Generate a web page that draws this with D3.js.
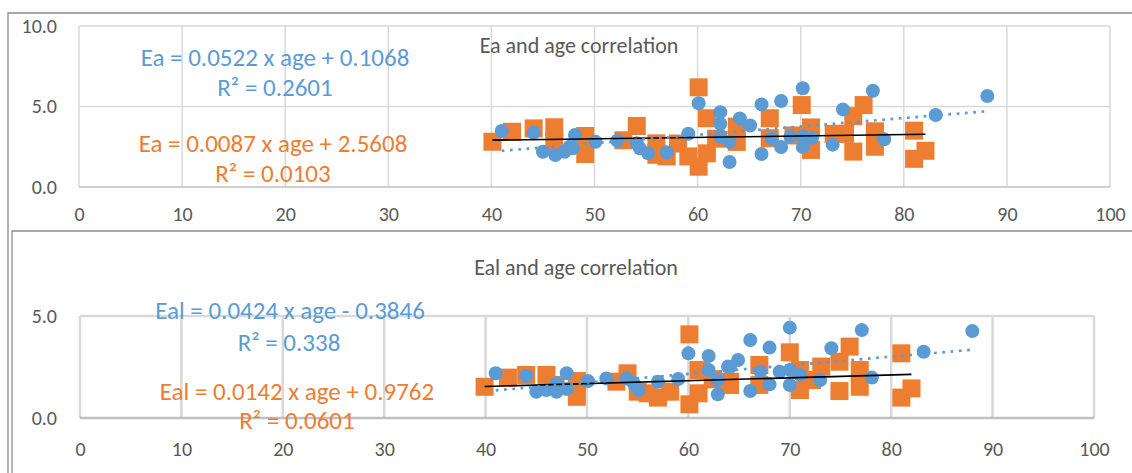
<!DOCTYPE html>
<html>
<head>
<meta charset="utf-8">
<script src="https://cdn.jsdelivr.net/npm/d3@7.9.0/dist/d3.min.js"></script>
<style>
  html, body { margin: 0; padding: 0; background: #fff; }
  svg { display: block; font-family: Carlito, Calibri, "Open Sans", sans-serif; }
</style>
</head>
<body>
<svg id="chart" width="1132" height="473"></svg>
<script>
/* --------------------------------- Data ---------------------------------- */
// [age, value] pairs
const eaBlue = [
  [41.0, 3.48], [44.1, 3.37], [45.0, 2.19], [46.2, 1.99], [47.1, 2.19], [47.6, 2.5],
  [47.9, 2.4], [48.1, 3.23], [50.1, 2.81], [52.2, 2.88], [54.1, 2.71], [54.4, 2.4],
  [55.2, 2.09], [57.0, 2.16], [59.1, 3.31], [60.1, 5.2], [62.2, 4.65], [62.2, 3.93],
  [62.2, 3.13], [63.1, 1.55], [63.1, 2.8], [64.1, 4.26], [65.1, 3.82], [66.2, 5.13],
  [66.2, 2.05], [67.2, 3.02], [68.1, 5.34], [68.1, 2.48], [69.0, 3.13], [70.2, 6.13],
  [70.2, 3.13], [70.2, 2.48], [71.1, 3.06], [73.1, 2.63], [74.1, 4.82], [77.0, 5.98],
  [78.1, 2.97], [83.1, 4.47], [88.1, 5.65]
];
const eaOrange = [
  [40.1, 2.81], [42.0, 3.43], [44.1, 3.64], [46.1, 3.71], [46.1, 2.81], [49.1, 3.17],
  [49.1, 2.05], [52.8, 2.9], [54.1, 3.79], [56.0, 2.71], [56.0, 2.0], [57.0, 1.9],
  [58.1, 2.7], [59.1, 1.9], [60.1, 6.19], [60.1, 1.26], [60.9, 4.27], [60.9, 2.09],
  [61.8, 3.0], [63.8, 3.75], [63.8, 2.8], [67.0, 4.27], [67.0, 3.03], [69.3, 3.2],
  [70.1, 5.09], [71.0, 3.7], [71.0, 2.3], [73.2, 3.3], [74.3, 3.3], [75.1, 2.2],
  [75.1, 4.4], [76.1, 5.09], [77.2, 3.46], [77.2, 2.5], [81.0, 3.5], [81.0, 1.75],
  [82.1, 2.25]
];
const ealBlue = [
  [41.0, 2.19], [44.0, 2.07], [45.0, 1.29], [46.0, 1.37], [47.0, 1.29], [47.0, 1.7],
  [48.0, 2.19], [48.0, 1.42], [50.1, 1.81], [51.9, 1.94], [53.9, 1.94], [54.6, 1.7],
  [55.1, 1.37], [57.0, 1.78], [59.0, 1.91], [60.0, 3.17], [62.0, 3.04], [62.0, 2.35],
  [62.9, 1.86], [62.9, 1.16], [63.9, 2.52], [64.1, 2.5], [64.9, 2.84], [66.1, 3.82],
  [66.1, 1.32], [67.1, 2.27], [68.0, 3.45], [68.0, 1.65], [69.0, 2.27], [70.0, 4.43],
  [70.0, 2.35], [70.0, 1.62], [71.0, 2.11], [73.0, 1.86], [74.1, 3.42], [77.1, 4.31],
  [78.1, 1.98], [83.2, 3.25], [88.0, 4.26]
];
const ealOrange = [
  [39.9, 1.53], [42.2, 1.98], [44.0, 2.11], [46.0, 2.11], [46.9, 1.62], [49.0, 1.81],
  [49.0, 1.04], [52.9, 1.78], [54.0, 2.19], [55.0, 1.29], [56.0, 1.21], [57.0, 1.0],
  [58.2, 1.29], [60.1, 4.1], [60.1, 0.67], [61.0, 2.35], [61.0, 1.21], [62.4, 1.9],
  [64.1, 1.62], [64.1, 1.78], [67.0, 2.6], [67.0, 1.62], [70.0, 3.22], [71.0, 2.35],
  [71.0, 1.37], [72.2, 1.86], [73.1, 2.52], [74.9, 1.32], [74.9, 2.76], [75.9, 3.5],
  [76.9, 2.35], [76.9, 1.53], [81.0, 3.17], [81.0, 1.0], [82.0, 1.45]
];

// trendline [slope, intercept] and R² as printed on the chart
const eaBlueFit = [0.0522, 0.1068];
const eaOrangeFit = [0.0087, 2.5608];
const ealBlueFit = [0.0424, -0.3846];
const ealOrangeFit = [0.0142, 0.9762];
const eaR2 = ["0.2601", "0.0103"];
const ealR2 = ["0.338", "0.0601"];

const xTicks = [0, 10, 20, 30, 40, 50, 60, 70, 80, 90, 100];
const eaYTicks = [0, 5, 10];
const ealYTicks = [0, 5];

/* -------------------------------- Layout --------------------------------- */
const BLUE = "#5B9BD5";
const ORANGE = "#ED7D31";
const TEXT = "#595959";
const FONT = 'Carlito, Calibri, "Open Sans", sans-serif';

const panels = [
  {
    title: "Ea and age correlation", name: "Ea",
    blue: eaBlue, orange: eaOrange, blueFit: eaBlueFit, orangeFit: eaOrangeFit, r2: eaR2,
    yTicks: eaYTicks, yMax: 10,
    x0: 79, x1: 1110, yTop: 26, yBot: 187, grid: 1.5,
    titleAt: [579, 45], xLabelY: 214,
    eqAt: [[275, 57], [275, 87], [273, 143], [273, 173]],
    frame: { x: 8, y: 13 }
  },
  {
    title: "Eal and age correlation", name: "Eal",
    blue: ealBlue, orange: ealOrange, blueFit: ealBlueFit, orangeFit: ealOrangeFit, r2: ealR2,
    yTicks: ealYTicks, yMax: 5,
    x0: 80, x1: 1094, yTop: 316, yBot: 418, grid: 2.5,
    titleAt: [576, 267], xLabelY: 449,
    eqAt: [[290, 310], [289, 342], [297, 391], [297, 420]],
    frame: { x: 12, y: 231 }
  }
];

const svg = d3.select("#chart");
const fmt = d3.format(".4f");

function eqText(name, fit) {
  const sign = fit[1] < 0 ? "-" : "+";
  return `${name} = ${fmt(fit[0])} x age ${sign} ${fmt(Math.abs(fit[1]))}`;
}

/* ------------------------------- Rendering -------------------------------- */
panels.forEach((p) => {
  const g = svg.append("g");

  // chart frame (only left + top edges are visible in the crop)
  g.append("path")
    .attr("d", `M${p.frame.x},473 V${p.frame.y} H1132`)
    .attr("fill", "none")
    .attr("stroke", "#8c8c8c")
    .attr("stroke-width", 1.3);

  const x = d3.scaleLinear().domain([0, 100]).range([p.x0, p.x1]);
  const y = d3.scaleLinear().domain([0, p.yMax]).range([p.yBot, p.yTop]);

  // gridlines
  g.append("g").selectAll("line").data(xTicks).join("line")
    .attr("x1", (d) => x(d)).attr("x2", (d) => x(d))
    .attr("y1", p.yTop).attr("y2", p.yBot)
    .attr("stroke", "#d9d9d9").attr("stroke-width", p.grid);
  g.append("g").selectAll("line").data(p.yTicks).join("line")
    .attr("x1", p.x0).attr("x2", p.x1)
    .attr("y1", (d) => y(d)).attr("y2", (d) => y(d))
    .attr("stroke", (d) => (d === 0 ? "#bfbfbf" : "#d9d9d9"))
    .attr("stroke-width", p.grid);

  // tick labels
  const xAxis = g.append("g")
    .attr("transform", `translate(0,${p.xLabelY})`)
    .call(d3.axisBottom(x).tickValues(xTicks).tickSize(0).tickPadding(0));
  xAxis.select(".domain").remove();
  xAxis.selectAll("text")
    .attr("dy", "0.35em")
    .attr("fill", TEXT)
    .style("font-size", "20px")
    .style("font-family", FONT);

  const yAxis = g.append("g")
    .attr("transform", `translate(${p.x0},0)`)
    .call(d3.axisLeft(y).tickValues(p.yTicks).tickFormat(d3.format(".1f")).tickSize(0).tickPadding(p.x0 - 57));
  yAxis.select(".domain").remove();
  yAxis.selectAll("text")
    .attr("fill", TEXT)
    .style("font-size", "20px")
    .style("font-family", FONT);

  // markers
  g.append("g").selectAll("rect").data(p.orange).join("rect")
    .attr("x", (d) => x(d[0]) - 9).attr("y", (d) => y(d[1]) - 9)
    .attr("width", 18).attr("height", 18)
    .attr("fill", ORANGE);
  g.append("g").selectAll("circle").data(p.blue).join("circle")
    .attr("cx", (d) => x(d[0])).attr("cy", (d) => y(d[1]))
    .attr("r", 7)
    .attr("fill", BLUE);

  // trendlines over the data range
  const line = d3.line().x((d) => x(d[0])).y((d) => y(d[1]));
  const fitLine = (data, fit) =>
    d3.extent(data, (d) => d[0]).map((a) => [a, fit[0] * a + fit[1]]);

  g.append("path")
    .attr("d", line(fitLine(p.orange, p.orangeFit)))
    .attr("stroke", "#000").attr("stroke-width", 1.6).attr("fill", "none");
  g.append("path")
    .attr("d", line(fitLine(p.blue, p.blueFit)))
    .attr("stroke", BLUE).attr("stroke-width", 2.7)
    .attr("stroke-dasharray", "2.7 5.6").attr("fill", "none");

  // title
  g.append("text")
    .attr("x", p.titleAt[0]).attr("y", p.titleAt[1])
    .attr("text-anchor", "middle").attr("dominant-baseline", "central")
    .attr("fill", TEXT).style("font-size", "22px")
    .text(p.title);

  // equations
  const eqs = [
    { t: eqText(p.name, p.blueFit), c: BLUE },
    { t: `R² = ${p.r2[0]}`, c: BLUE },
    { t: eqText(p.name, p.orangeFit), c: ORANGE },
    { t: `R² = ${p.r2[1]}`, c: ORANGE }
  ];
  g.append("g").selectAll("text").data(eqs).join("text")
    .attr("x", (d, i) => p.eqAt[i][0]).attr("y", (d, i) => p.eqAt[i][1])
    .attr("text-anchor", "middle").attr("dominant-baseline", "central")
    .attr("fill", (d) => d.c).style("font-size", "25px")
    .text((d) => d.t);
});
</script>
</body>
</html>
